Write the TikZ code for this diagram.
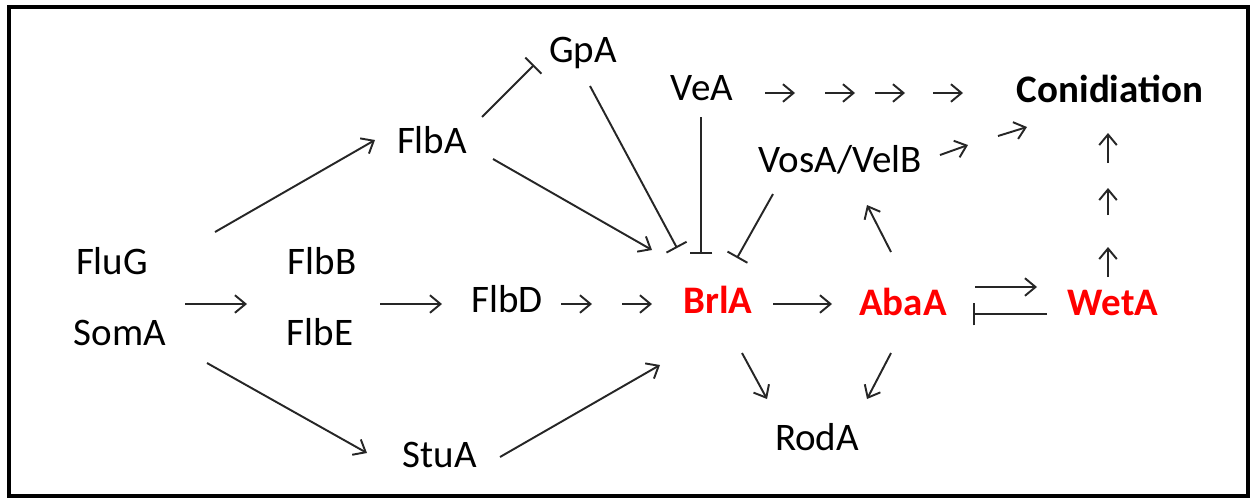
\documentclass[tikz,border=0pt]{standalone}
\usepackage{fontspec}
\setmainfont{Carlito}
\usetikzlibrary{arrows.meta}
\definecolor{ink}{gray}{0.15}
\definecolor{gred}{RGB}{255,0,0}
\begin{document}
\begin{tikzpicture}[x=0.02cm,y=-0.02cm,
  lbl/.style={inner sep=0pt,anchor=base,font=\fontsize{22.2}{26}\selectfont},
  key/.style={inner sep=0pt,anchor=base,font=\fontsize{22.2}{26}\selectfont\bfseries,text=gred},
  act/.style={draw=ink,line width=1.1pt,-{Straight Barb[length=6pt,width=10pt]}},
  inh/.style={draw=ink,line width=1.1pt,-{Bar[width=13pt]}},
  frame/.style={draw=black,line width=2pt}]
\useasboundingbox (0,0) rectangle (1250,498);
\draw[frame] (9,7) rectangle (1248,496);
% labels
\node[lbl] (fluG) at (112,274) {FluG};
\node[lbl] (somA) at (120,345) {SomA};
\node[lbl] (flbB) at (322,274) {FlbB};
\node[lbl] (flbE) at (320,345) {FlbE};
\node[lbl] (flbD) at (507,312) {FlbD};
\node[lbl] (flbA) at (432,153) {FlbA};
\node[lbl] (gpA) at (583,62) {GpA};
\node[lbl] (veA) at (702,100) {VeA};
\node[lbl] (vosA) at (840,172) {VosA/VelB};
\node[lbl,font=\fontsize{22.2}{26}\selectfont\bfseries] (conid) at (1110,102) {Conidiation};
\node[key] (brlA) at (718,313) {BrlA};
\node[key] (abaA) at (903,315) {AbaA};
\node[key] (wetA) at (1113,315) {WetA};
\node[lbl] (rodA) at (817,450) {RodA};
\node[lbl] (stuA) at (440,467) {StuA};
% connector ends
\coordinate (a1s) at (215,232); \coordinate (a1e) at (375,140);
\coordinate (a2s) at (185,304); \coordinate (a2e) at (247,304);
\coordinate (a3s) at (380,304); \coordinate (a3e) at (442,304);
\coordinate (a4s) at (207,363); \coordinate (a4e) at (367,453);
\coordinate (a5s) at (561,304); \coordinate (a5e) at (592,304);
\coordinate (a6s) at (622,304); \coordinate (a6e) at (652,304);
\coordinate (a7s) at (500,457); \coordinate (a7e) at (660,365);
\coordinate (a8s) at (773,304); \coordinate (a8e) at (832,304);
\coordinate (a9s) at (742,353); \coordinate (a9e) at (767,399);
\coordinate (a10s) at (891,353); \coordinate (a10e) at (867,399);
\coordinate (a11s) at (975,287); \coordinate (a11e) at (1037,287);
\coordinate (i1s) at (1047,314); \coordinate (i1e) at (973,314);
\coordinate (u1s) at (1108,277); \coordinate (u1e) at (1108,247);
\coordinate (u2s) at (1108,215); \coordinate (u2e) at (1108,188);
\coordinate (u3s) at (1108,163); \coordinate (u3e) at (1108,133);
\coordinate (v1s) at (765,93); \coordinate (v1e) at (795,93);
\coordinate (v2s) at (825,93); \coordinate (v2e) at (855,93);
\coordinate (v3s) at (875,93); \coordinate (v3e) at (905,93);
\coordinate (v4s) at (933,93); \coordinate (v4e) at (963,93);
\coordinate (w1s) at (940,155); \coordinate (w1e) at (968,145);
\coordinate (w2s) at (998,136); \coordinate (w2e) at (1027,127);
\coordinate (i2s) at (701,117); \coordinate (i2e) at (701,254);
\coordinate (i3s) at (590,86); \coordinate (i3e) at (677,248);
\coordinate (a12s) at (493,159); \coordinate (a12e) at (652,250);
\coordinate (i4s) at (482,117); \coordinate (i4e) at (534,65);
\coordinate (i5s) at (773,194); \coordinate (i5e) at (737,258);
\coordinate (a13s) at (891,252); \coordinate (a13e) at (867,205);
% activations
\foreach \c in {a1,a2,a3,a4,a5,a6,a7,a8,a9,a10,a11,a12,a13,u1,u2,u3,v1,v2,v3,v4,w1,w2}
  \draw[act] (\c s) -- (\c e);
% inhibitions
\foreach \c in {i1,i2,i3,i4,i5}
  \draw[inh] (\c s) -- (\c e);
\end{tikzpicture}
\end{document}
